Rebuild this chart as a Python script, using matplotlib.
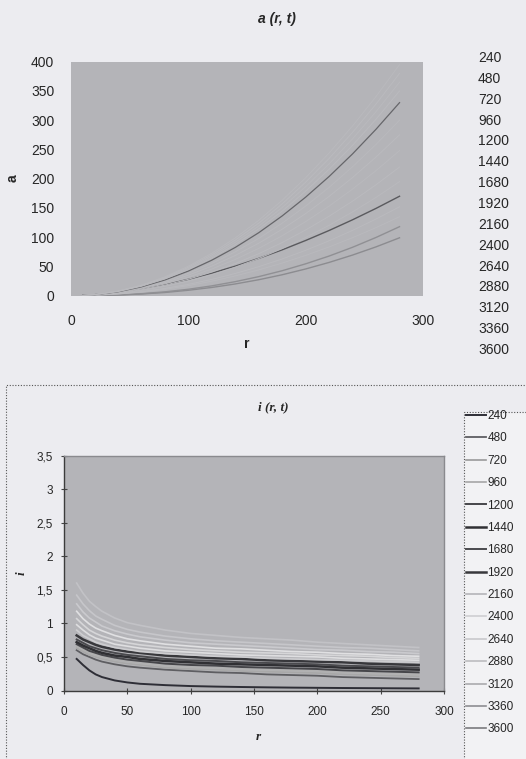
import matplotlib
matplotlib.use("Agg")
import matplotlib.pyplot as plt
from matplotlib import font_manager
from matplotlib.patches import Rectangle
from matplotlib.ticker import FuncFormatter, MultipleLocator

# time steps (legend entries, both charts)
t_labels = ["240", "480", "720", "960", "1200", "1440", "1680", "1920",
            "2160", "2400", "2640", "2880", "3120", "3360", "3600"]

# ---- a(r, t) ----
r_a = [10, 20, 40, 60, 80, 100, 120, 140, 160, 180, 200, 220, 240, 260, 280]
a_240 = [0.05, 0.2, 1.1, 2.9, 5.5, 9.3, 14.1, 20.1, 27.3, 35.8, 45.7, 56.9, 69.5, 83.5, 99]
a_480 = [0.06, 0.3, 1.3, 3.4, 6.6, 11.0, 16.8, 24.0, 32.6, 42.7, 54.5, 67.8, 82.8, 99.6, 118]
a_720 = [0.17, 0.7, 2.8, 6.2, 11.0, 17.2, 24.8, 33.8, 44.1, 55.8, 68.9, 83.4, 99.2, 116.4, 135]
a_960 = [0.19, 0.8, 3.1, 7.0, 12.4, 19.4, 27.9, 38.0, 49.6, 62.8, 77.6, 93.9, 111.7, 131.1, 152]
a_1200 = [0.5, 1.7, 5.6, 11.5, 19.0, 28.0, 38.6, 50.5, 63.8, 78.4, 94.4, 111.5, 129.8, 149.3, 170]
a_1440 = [0.25, 1.0, 4.0, 9.0, 15.9, 24.9, 35.8, 48.8, 63.6, 80.6, 99.6, 120.4, 143.3, 168.1, 195]
a_1680 = [0.28, 1.1, 4.5, 10.1, 18.0, 28.1, 40.4, 55.0, 71.8, 90.9, 112.4, 135.9, 161.7, 189.7, 220]
a_1920 = [0.32, 1.3, 5.1, 11.4, 20.2, 31.6, 45.6, 62.0, 80.9, 102.5, 126.7, 153.2, 182.3, 213.9, 248]
a_2160 = [0.35, 1.4, 5.6, 12.6, 22.4, 35.1, 50.5, 68.8, 89.7, 113.6, 140.4, 169.8, 202.1, 237.1, 275]
a_2400 = [0.38, 1.5, 6.1, 13.8, 24.5, 38.3, 55.1, 75.0, 97.9, 124.0, 153.2, 185.3, 220.5, 258.7, 300]
a_2640 = [0.42, 1.7, 6.7, 15.1, 26.9, 42.1, 60.7, 82.5, 107.7, 136.4, 168.5, 203.8, 242.5, 284.6, 330]
a_2880 = [0.45, 1.8, 7.1, 16.1, 28.6, 44.6, 64.3, 87.5, 114.2, 144.6, 178.7, 216.2, 257.2, 301.8, 350]
a_3120 = [0.47, 1.9, 7.4, 16.8, 29.8, 46.5, 67.1, 91.3, 119.1, 150.8, 186.4, 225.4, 268.2, 314.7, 365]
a_3360 = [0.49, 1.9, 7.8, 17.4, 31.0, 48.5, 69.8, 95.0, 124.0, 157.0, 194.1, 234.7, 279.3, 327.7, 380]
a_3600 = [0.51, 2.0, 8.1, 18.1, 32.2, 50.4, 72.6, 98.8, 128.9, 163.2, 201.7, 244.0, 290.3, 340.6, 395]
a_series = [a_240, a_480, a_720, a_960, a_1200, a_1440, a_1680, a_1920,
            a_2160, a_2400, a_2640, a_2880, a_3120, a_3360, a_3600]

# ---- i(r, t) ----
r_i = [10, 15, 20, 25, 30, 40, 50, 60, 80, 100, 120, 140, 160, 180, 200, 220, 240, 260, 280]
i_240 = [0.47, 0.38, 0.30, 0.24, 0.20, 0.15, 0.12, 0.10, 0.08, 0.066, 0.058, 0.052, 0.047, 0.043, 0.040, 0.037, 0.035, 0.033, 0.031]
i_480 = [0.60, 0.54, 0.50, 0.46, 0.43, 0.39, 0.36, 0.34, 0.31, 0.29, 0.27, 0.26, 0.24, 0.23, 0.22, 0.20, 0.19, 0.18, 0.17]
i_720 = [0.63, 0.58, 0.53, 0.50, 0.47, 0.43, 0.40, 0.38, 0.34, 0.32, 0.31, 0.29, 0.28, 0.27, 0.26, 0.24, 0.23, 0.22, 0.21]
i_960 = [0.66, 0.61, 0.56, 0.53, 0.50, 0.46, 0.43, 0.41, 0.37, 0.35, 0.34, 0.32, 0.31, 0.30, 0.29, 0.27, 0.26, 0.25, 0.24]
i_1200 = [0.69, 0.64, 0.59, 0.56, 0.53, 0.49, 0.46, 0.44, 0.40, 0.38, 0.37, 0.35, 0.34, 0.33, 0.32, 0.30, 0.29, 0.28, 0.27]
i_1440 = [0.72, 0.67, 0.63, 0.59, 0.56, 0.52, 0.50, 0.47, 0.44, 0.42, 0.40, 0.39, 0.38, 0.37, 0.36, 0.34, 0.33, 0.32, 0.31]
i_1680 = [0.76, 0.71, 0.66, 0.63, 0.60, 0.56, 0.53, 0.51, 0.47, 0.45, 0.44, 0.42, 0.41, 0.40, 0.39, 0.37, 0.36, 0.35, 0.34]
i_1920 = [0.82, 0.76, 0.72, 0.68, 0.65, 0.61, 0.58, 0.56, 0.52, 0.50, 0.48, 0.47, 0.45, 0.44, 0.43, 0.42, 0.40, 0.39, 0.38]
i_2160 = [0.90, 0.82, 0.77, 0.72, 0.69, 0.64, 0.61, 0.58, 0.55, 0.53, 0.51, 0.50, 0.48, 0.47, 0.46, 0.45, 0.44, 0.43, 0.42]
i_2400 = [0.98, 0.90, 0.83, 0.78, 0.75, 0.69, 0.66, 0.63, 0.59, 0.57, 0.55, 0.53, 0.52, 0.51, 0.50, 0.48, 0.47, 0.46, 0.45]
i_2640 = [1.07, 0.98, 0.90, 0.85, 0.81, 0.75, 0.71, 0.68, 0.64, 0.61, 0.59, 0.57, 0.56, 0.55, 0.53, 0.52, 0.51, 0.49, 0.48]
i_2880 = [1.18, 1.07, 0.99, 0.93, 0.89, 0.82, 0.77, 0.74, 0.69, 0.66, 0.63, 0.62, 0.60, 0.58, 0.57, 0.55, 0.54, 0.52, 0.51]
i_3120 = [1.29, 1.17, 1.08, 1.02, 0.96, 0.89, 0.84, 0.80, 0.75, 0.71, 0.69, 0.67, 0.65, 0.63, 0.61, 0.60, 0.58, 0.57, 0.55]
i_3360 = [1.42, 1.29, 1.19, 1.11, 1.06, 0.97, 0.91, 0.87, 0.81, 0.77, 0.74, 0.72, 0.70, 0.68, 0.66, 0.64, 0.63, 0.61, 0.59]
i_3600 = [1.60, 1.45, 1.33, 1.25, 1.18, 1.08, 1.01, 0.97, 0.90, 0.85, 0.82, 0.79, 0.77, 0.75, 0.72, 0.70, 0.68, 0.66, 0.64]
i_series = [i_240, i_480, i_720, i_960, i_1200, i_1440, i_1680, i_1920,
            i_2160, i_2400, i_2640, i_2880, i_3120, i_3360, i_3600]

# styles
page_bg = "#ececf0"
plot_bg = "#b4b4b8"
text_c = "#262626"
a_colors = ["#8c8c90", "#909094", "#b9b9bd", "#bababe", "#5a5a5e", "#b9b9bd", "#bababe", "#b9b9bd",
            "#bababe", "#b9b9bd", "#66666a", "#bababe", "#b9b9bd", "#bababe", "#b9b9bd"]
a_widths = [1.0, 1.0, 0.7, 0.7, 1.0, 0.7, 0.7, 0.7, 0.7, 0.7, 0.9, 0.7, 0.7, 0.7, 0.7]
i_colors = ["#2e2e36", "#5e5e62", "#a8a8a8", "#b0b0b0", "#46464a", "#303034", "#4a4a4e", "#38383c",
            "#cdcdd0", "#dedee0", "#d6d6d8", "#e0e0e2", "#cacace", "#c6c6ca", "#c2c2c6"]
i_widths = [1.4, 1.3, 1.2, 1.2, 1.4, 1.8, 1.4, 1.8, 1.2, 1.2, 1.2, 1.2, 1.2, 1.2, 1.2]
# legend handle shades as they appear on the white legend panel
legend_colors = ["#2e2e36", "#5e5e62", "#9a9a9a", "#a6a6a6", "#46464a", "#303034", "#4a4a4e", "#38383c",
                 "#b4b4b8", "#cfcfd2", "#c8c8cc", "#bdbdc0", "#aaaaae", "#8e8e92", "#7a7a7e"]

names = {f.name for f in font_manager.fontManager.ttflist}
narrow = "Liberation Sans Narrow" if "Liberation Sans Narrow" in names else "Liberation Sans"

plt.rcParams["font.family"] = "Liberation Sans"

W, H = 526, 759
fig = plt.figure(figsize=(W / 100, H / 100), dpi=100)
fig.patch.set_facecolor(page_bg)


def fx(px):
    return px / W


def fy(py):
    return 1 - py / H


# ---------- top chart ----------
ax1 = fig.add_axes([fx(71), fy(295.7), fx(352), 234 / H])
ax1.set_facecolor(plot_bg)
for s, c, w in zip(a_series, a_colors, a_widths):
    ax1.plot(r_a, s, color=c, lw=w)
ax1.set_xlim(0, 300)
ax1.set_ylim(0, 400)
ax1.xaxis.set_major_locator(MultipleLocator(100))
ax1.yaxis.set_major_locator(MultipleLocator(50))
ax1.tick_params(length=0, labelsize=10, colors=text_c)
ax1.tick_params(axis="x", pad=13)
ax1.tick_params(axis="y", pad=12)
for sp in ax1.spines.values():
    sp.set_visible(False)
fig.text(fx(277), fy(19), "a (r, t)", ha="center", va="center", fontsize=10,
         fontweight="bold", style="italic", color=text_c)
fig.text(fx(13), fy(178), "a", ha="center", va="center", rotation=90, fontsize=10,
         fontweight="bold", color=text_c)
fig.text(fx(247), fy(344), "r", ha="center", va="center", fontsize=10,
         fontweight="bold", color=text_c)
for k, lab in enumerate(t_labels):
    fig.text(fx(478), fy(58 + k * 20.86), lab, ha="left", va="center", fontsize=10, color=text_c)

# ---------- bottom chart ----------
fig.add_artist(Rectangle((fx(6), fy(770)), fx(530), (770 - 385) / H, transform=fig.transFigure,
                         fill=False, ls=(0, (1, 1.5)), lw=0.8, ec="#555555"))

ax2 = fig.add_axes([fx(64), fy(690.5), fx(380), 235 / H])
ax2.set_facecolor(plot_bg)
lines = []
for s, c, w, lab in zip(i_series, i_colors, i_widths, t_labels):
    ln, = ax2.plot(r_i, s, color=c, lw=w, label=lab)
    lines.append(ln)
ax2.set_xlim(0, 300)
ax2.set_ylim(0, 3.5)
ax2.xaxis.set_major_locator(MultipleLocator(50))
ax2.yaxis.set_major_locator(MultipleLocator(0.5))
ax2.yaxis.set_major_formatter(FuncFormatter(lambda v, p: f"{v:g}".replace(".", ",")))
ax2.tick_params(direction="inout", length=4, width=0.8, color="#444444",
                labelsize=8.5, labelcolor=text_c)
ax2.tick_params(axis="x", pad=9)
ax2.tick_params(axis="y", pad=6)
for lab in ax2.get_xticklabels() + ax2.get_yticklabels():
    lab.set_family(narrow)
for side, sp in ax2.spines.items():
    sp.set_color("#3c3c3c" if side in ("left", "bottom") else "#8a8a8e")
    sp.set_linewidth(1.0)
fig.text(fx(273), fy(407), "i (r, t)", ha="center", va="center", fontsize=9.5,
         fontweight="bold", style="italic", family="Liberation Serif", color=text_c)
fig.text(fx(22), fy(573), "i", ha="center", va="center", rotation=90, fontsize=9.5,
         fontweight="bold", style="italic", family="Liberation Serif", color=text_c)
fig.text(fx(258), fy(737), "r", ha="center", va="center", fontsize=9.5,
         fontweight="bold", style="italic", family="Liberation Serif", color=text_c)

fig.add_artist(Rectangle((fx(464), fy(770)), fx(70), (770 - 412) / H, transform=fig.transFigure,
                         fill=True, fc="#f2f2f4", ls=(0, (1, 1.5)), lw=0.8, ec="#555555"))
leg = fig.legend(handles=lines, loc="upper left", bbox_to_anchor=(fx(466), fy(410)),
                 frameon=False, handlelength=1.7, handletextpad=0.1,
                 labelspacing=0.88, borderpad=0.0, borderaxespad=0.0,
                 prop={"family": narrow, "size": 8.5})
for txt, h, c in zip(leg.get_texts(), leg.legend_handles, legend_colors):
    txt.set_color(text_c)
    h.set_color(c)

fig.savefig("out.png", dpi=100, facecolor=page_bg)
